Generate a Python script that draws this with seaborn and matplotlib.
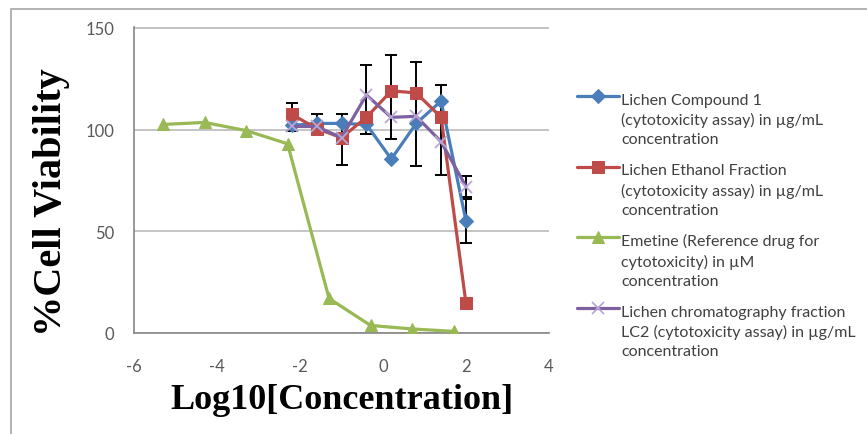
import matplotlib
matplotlib.use('Agg')
import matplotlib.pyplot as plt
import seaborn as sns
from matplotlib.patches import Rectangle

# -----------------------------
# DATA
# -----------------------------

conc_lichen = [-2.2, -1.6, -1.0, -0.4, 0.2, 0.8, 1.4, 2.0]
conc_emetine = [-5.3, -4.3, -3.3, -2.3, -1.3, -0.3, 0.7, 1.7]

compound1 = [102, 103, 103, 102.5, 85.5, 103, 114, 55]
ethanol_fraction = [107.5, 100.5, 96, 106, 119, 118, 106, 14.5]
emetine = [102.5, 103.5, 99.5, 93, 17, 3.7, 2, 0.8]
lc2 = [101.5, 101.5, 96, 117, 106, 106.5, 94, 72]

# error bars (lower / upper ends)
err_x = [-2.2, -1.6, -1.0, -0.4, 0.2, 0.8, 1.4, 2.0, 2.0]
err_low = [99.5, 98, 82.6, 97.9, 95.4, 82, 77.7, 44, 67]
err_high = [113, 107.7, 107.7, 131.8, 136.5, 133.3, 122.1, 66, 77]

labels = [
    'Lichen Compound 1\n(cytotoxicity assay) in \u00b5g/mL\nconcentration',
    'Lichen Ethanol Fraction\n(cytotoxicity assay) in \u00b5g/mL\nconcentration',
    'Emetine (Reference drug for\ncytotoxicity) in \u00b5M\nconcentration',
    'Lichen chromatography fraction\nLC2 (cytotoxicity assay) in \u00b5g/mL\nconcentration',
]

x_ticks = [-6, -4, -2, 0, 2, 4]
y_ticks = [0, 50, 100, 150]

# -----------------------------
# STYLE
# -----------------------------

sns.set_style('white')
plt.rcParams['font.family'] = ['Lato', 'DejaVu Sans']
plt.rcParams['axes.unicode_minus'] = False

fig = plt.figure(figsize=(8.67, 4.35), dpi=100)
ax = fig.add_axes([134 / 867, 1 - 334 / 435, 415 / 867, 306 / 435])

# error bars first so markers sit on top
mid = [(lo + hi) / 2 for lo, hi in zip(err_low, err_high)]
half = [(hi - lo) / 2 for lo, hi in zip(err_low, err_high)]
ax.errorbar(err_x, mid, yerr=half, fmt='none', ecolor='black',
            elinewidth=1.4, capsize=4, capthick=1.4, zorder=2)

# -----------------------------
# SERIES
# -----------------------------

sns.lineplot(x=conc_lichen, y=compound1, color='#4A7EBB', marker='D',
             markersize=7, markeredgecolor='#4A7EBB', linewidth=2.3,
             label=labels[0], ax=ax, zorder=3)
sns.lineplot(x=conc_lichen, y=ethanol_fraction, color='#BE4B48', marker='s',
             markersize=8.5, markeredgecolor='#BE4B48', linewidth=2.3,
             label=labels[1], ax=ax, zorder=3)
sns.lineplot(x=conc_emetine, y=emetine, color='#98B954', marker='^',
             markersize=8.5, markeredgecolor='#98B954', linewidth=2.3,
             label=labels[2], ax=ax, zorder=3)
sns.lineplot(x=conc_lichen, y=lc2, color='#7D60A0', marker='x',
             markersize=9, markeredgecolor='#B9A6D6', markeredgewidth=1.3,
             linewidth=2.3, label=labels[3], ax=ax, zorder=3)

# -----------------------------
# AXES
# -----------------------------

ax.set_xlim(-6, 4)
ax.set_ylim(0, 150.4)
ax.set_xticks(x_ticks)
ax.set_yticks(y_ticks)
ax.yaxis.grid(True, color='#BFBFBF', linewidth=1.3)
ax.xaxis.grid(False)
ax.set_axisbelow(True)

for side in ['top', 'right']:
    ax.spines[side].set_visible(False)
for side in ['left', 'bottom']:
    ax.spines[side].set_color('#868686')
    ax.spines[side].set_linewidth(1.2)

ax.tick_params(axis='both', direction='out', length=6, width=1.1,
               color='#868686', labelsize=12, labelcolor='#595959')
ax.tick_params(axis='y', pad=8)
ax.tick_params(axis='x', pad=12)

ax.set_ylabel('%Cell Viability', family='Liberation Serif',
              fontweight='bold', fontsize=29, color='black')
ax.yaxis.set_label_coords(-0.155, 0.43)
ax.set_xlabel('Log10[Concentration]', family='Liberation Serif',
              fontweight='bold', fontsize=26, color='black')
ax.xaxis.set_label_coords(0.5, -0.162)

# -----------------------------
# LEGEND
# -----------------------------

legend_size = 11.5
line_gap = 1.45
handles, lab = ax.get_legend_handles_labels()
leg = ax.legend(handles, lab, loc='upper left',
                bbox_to_anchor=(577 / 867, 1 - 94 / 435),
                bbox_transform=fig.transFigure, frameon=False,
                fontsize=legend_size, handlelength=2.6, handletextpad=0.15,
                labelspacing=1.05, borderaxespad=0, borderpad=0)
for t in leg.get_texts():
    t.set_color('#404040')
    t.set_linespacing(line_gap)

# Excel puts the legend key next to the first text line
for h in leg.legend_handles:
    h.set_ydata([y + line_gap * legend_size for y in h.get_ydata()])

# chart area border (cut off at right and bottom)
fig.patches.append(Rectangle((11 / 867, -0.1), 1.2, 1 - 10 / 435 + 0.1,
                             transform=fig.transFigure, fill=False,
                             edgecolor='#A6A6A6', linewidth=1.2))

fig.savefig('out.png', dpi=100)
